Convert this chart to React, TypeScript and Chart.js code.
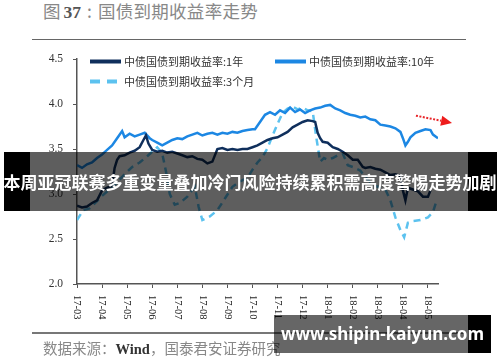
import React, { useEffect, useRef } from "react";
import { Chart, registerables } from "chart.js";

Chart.register(...registerables);

// ---------- data ----------
const monthLabels = [
  "17-03", "17-04", "17-05", "17-06", "17-07", "17-08", "17-09", "17-10",
  "17-11", "17-12", "18-01", "18-02", "18-03", "18-04", "18-05",
];

const seriesNames = [
  "中债国债到期收益率:1年",
  "中债国债到期收益率:10年",
  "中债国债到期收益率:3个月",
];

// time in months since 2017-03
const oneYearT = [
  0, 0.2, 0.4, 0.6, 0.8, 1.0, 1.2, 1.4, 1.5, 1.6, 1.7, 1.9, 2.1, 2.3, 2.5,
  2.65, 2.75, 2.85, 3.0, 3.2, 3.4, 3.6, 3.8, 4.0, 4.2, 4.4, 4.6, 4.8, 5.0, 5.2,
  5.4, 5.6, 5.8, 6.0, 6.2, 6.4, 6.6, 6.8, 7.0, 7.2, 7.4, 7.6, 7.8, 8.0, 8.2,
  8.4, 8.6, 8.8, 9.0, 9.2, 9.4, 9.5, 9.6, 9.7, 9.8, 10.0, 10.2, 10.4, 10.6, 10.8,
  11.0, 11.2, 11.4, 11.5, 11.7, 11.9, 12.1, 12.3, 12.5, 12.7, 12.9, 13.0, 13.1, 13.2, 13.4,
  13.6, 13.8, 14.0, 14.1,
];
const oneYear = [
  2.87, 2.85, 2.86, 2.90, 2.93, 3.04, 3.07, 3.09, 3.29, 3.38, 3.42, 3.43, 3.46, 3.48, 3.52,
  3.60, 3.65, 3.56, 3.49, 3.47, 3.48, 3.46, 3.47, 3.45, 3.43, 3.41, 3.42, 3.39, 3.38, 3.34,
  3.36, 3.50, 3.51, 3.49, 3.50, 3.49, 3.50, 3.50, 3.52, 3.54, 3.57, 3.60, 3.62, 3.63, 3.66,
  3.69, 3.74, 3.77, 3.80, 3.82, 3.81, 3.80, 3.68, 3.62, 3.58, 3.57, 3.52, 3.50, 3.47, 3.43,
  3.38, 3.38, 3.30, 3.29, 3.30, 3.28, 3.27, 3.24, 3.21, 3.22, 3.20, 3.04, 2.93, 3.07, 3.05,
  3.03, 2.97, 2.97, 3.04,
];

const tenYearT = [
  0, 0.2, 0.4, 0.6, 0.8, 1.0, 1.2, 1.4, 1.6, 1.8, 1.9, 2.1, 2.3, 2.5, 2.7,
  2.9, 3.0, 3.2, 3.4, 3.6, 3.8, 4.0, 4.2, 4.4, 4.6, 4.8, 5.0, 5.2, 5.4, 5.6,
  5.8, 6.0, 6.2, 6.4, 6.6, 6.8, 7.0, 7.1, 7.3, 7.5, 7.7, 7.9, 8.1, 8.3, 8.5,
  8.7, 8.9, 9.1, 9.3, 9.5, 9.7, 9.9, 10.1, 10.3, 10.5, 10.7, 10.9, 11.1, 11.3, 11.5,
  11.7, 11.9, 12.1, 12.3, 12.5, 12.7, 12.9, 13.0, 13.1, 13.2, 13.3, 13.5, 13.7, 13.9, 14.1,
  14.2, 14.4,
];
const tenYear = [
  3.32, 3.29, 3.33, 3.35, 3.40, 3.44, 3.49, 3.54, 3.62, 3.70, 3.63, 3.67, 3.64, 3.66, 3.68,
  3.62, 3.60, 3.57, 3.54, 3.57, 3.60, 3.62, 3.61, 3.64, 3.66, 3.68, 3.65, 3.67, 3.68, 3.66,
  3.68, 3.67, 3.69, 3.68, 3.70, 3.71, 3.72, 3.72, 3.80, 3.88, 3.91, 3.88, 3.93, 3.90, 3.96,
  3.91, 3.94, 3.90, 3.93, 3.95, 3.96, 3.98, 3.99, 3.95, 3.93, 3.90, 3.88, 3.87, 3.85, 3.86,
  3.83, 3.82, 3.77, 3.76, 3.75, 3.73, 3.69, 3.62, 3.54, 3.58, 3.63, 3.68, 3.70, 3.72, 3.71,
  3.66, 3.62,
];

const threeMonthT = [
  0, 0.25, 0.5, 0.8, 1.0, 1.3, 1.6, 1.9, 2.2, 2.5, 2.8, 3.0, 3.2, 3.4, 3.55,
  3.7, 3.9, 4.1, 4.4, 4.7, 4.85, 5.0, 5.3, 5.6, 5.9, 6.2, 6.5, 6.8, 7.0, 7.2,
  7.4, 7.6, 7.8, 8.0, 8.2, 8.4, 8.6, 8.8, 9.0, 9.2, 9.4, 9.55, 9.7, 9.85, 10.0,
  10.2, 10.4, 10.6, 10.8, 11.0, 11.3, 11.5, 11.8, 12.1, 12.3, 12.5, 12.7, 12.9, 13.05, 13.2,
  13.4, 13.7, 14.0, 14.2, 14.35,
];
const threeMonth = [
  2.71, 2.82, 2.84, 2.92, 2.98, 3.05, 3.13, 3.22, 3.30, 3.35, 3.42, 3.47, 3.52, 3.45, 3.25,
  3.00, 2.88, 2.90, 2.97, 3.08, 2.86, 2.71, 2.75, 2.82, 2.95, 3.08, 3.14, 3.18, 3.27, 3.35,
  3.41, 3.51, 3.65, 3.78, 3.90, 3.95, 3.97, 3.94, 3.96, 3.93, 3.92, 3.62, 3.36, 3.40, 3.38,
  3.40, 3.43, 3.45, 3.32, 3.30, 3.26, 3.19, 3.10, 3.07, 3.05, 2.93, 2.74, 2.60, 2.52, 2.68,
  2.70, 2.71, 2.74, 2.80, 2.93,
];

// trend arrow (month, yield): start, tip
const arrowStart = [13.52, 3.87];
const arrowTip = [14.96, 3.79];

const yMin = 2.0;
const yMax = 4.5;
const yStep = 0.5;
const xMax = 14.4;

// ---------- styles ----------
const C1 = "#0f2f5c";
const C10 = "#1c87e3";
const C3 = "#5cc2ef";
const SERIF = '"Liberation Serif", "DejaVu Serif", serif';
const CJK = '"Noto Sans CJK SC", sans-serif';

const toPts = (t: number[], v: number[]) => t.map((x, i) => ({ x, y: v[i] }));

const xLabelPlugin = {
  id: "xLabels",
  afterDraw(chart: any) {
    const { ctx } = chart;
    const x = chart.scales.x;
    ctx.save();
    ctx.font = `10.5px ${SERIF}`;
    ctx.fillStyle = "#222";
    ctx.textAlign = "left";
    ctx.textBaseline = "middle";
    monthLabels.forEach((lab, i) => {
      const px = x.getPixelForValue(i);
      ctx.save();
      ctx.translate(px, x.top + 11);
      ctx.rotate(Math.PI / 2);
      ctx.fillText(lab, 0, 0);
      ctx.restore();
    });
    ctx.restore();
  },
};

const legendPlugin = {
  id: "customLegend",
  afterDraw(chart: any) {
    const { ctx, chartArea } = chart;
    const L = chartArea.left;
    const T = chartArea.top;
    ctx.save();
    ctx.font = `11px ${CJK}`;
    ctx.fillStyle = "#333";
    ctx.textBaseline = "middle";
    const items = [
      { x: L + 13, y: T + 2.5, color: C1, dash: [] as number[], label: seriesNames[0] },
      { x: L + 198, y: T + 2.5, color: C10, dash: [] as number[], label: seriesNames[1] },
      { x: L + 13, y: T + 22.5, color: C3, dash: [10, 7], label: seriesNames[2] },
    ];
    items.forEach((it) => {
      ctx.beginPath();
      ctx.strokeStyle = it.color;
      ctx.lineWidth = 4;
      ctx.setLineDash(it.dash);
      ctx.moveTo(it.x, it.y);
      ctx.lineTo(it.x + 31, it.y);
      ctx.stroke();
      ctx.setLineDash([]);
      ctx.fillText(it.label, it.x + 34, it.y + 0.5);
    });
    ctx.restore();
  },
};

const arrowPlugin = {
  id: "trendArrow",
  afterDraw(chart: any) {
    const { ctx } = chart;
    const sx = chart.scales.x;
    const sy = chart.scales.y;
    const x0 = sx.getPixelForValue(arrowStart[0]);
    const y0 = sy.getPixelForValue(arrowStart[1]);
    const x1 = sx.getPixelForValue(arrowTip[0]);
    const y1 = sy.getPixelForValue(arrowTip[1]);
    const ang = Math.atan2(y1 - y0, x1 - x0);
    const headLen = 11;
    const bx = x1 - headLen * Math.cos(ang);
    const by = y1 - headLen * Math.sin(ang);
    ctx.save();
    ctx.strokeStyle = "#e8262a";
    ctx.fillStyle = "#ee1c1c";
    ctx.lineWidth = 2;
    ctx.setLineDash([2, 1.5]);
    ctx.beginPath();
    ctx.moveTo(x0, y0);
    ctx.lineTo(bx, by);
    ctx.stroke();
    ctx.setLineDash([]);
    const hw = 5;
    ctx.beginPath();
    ctx.moveTo(x1, y1);
    ctx.lineTo(bx + hw * Math.sin(ang), by - hw * Math.cos(ang));
    ctx.lineTo(bx - hw * Math.sin(ang), by + hw * Math.cos(ang));
    ctx.closePath();
    ctx.fill();
    ctx.restore();
  },
};

function YieldChart() {
  const ref = useRef<HTMLCanvasElement | null>(null);
  useEffect(() => {
    if (!ref.current) return;
    const chart = new Chart(ref.current, {
      type: "line",
      data: {
        datasets: [
          {
            label: seriesNames[0],
            data: toPts(oneYearT, oneYear),
            borderColor: C1,
            borderWidth: 2.5,
            pointRadius: 0,
            tension: 0,
            order: 0,
          },
          {
            label: seriesNames[1],
            data: toPts(tenYearT, tenYear),
            borderColor: C10,
            borderWidth: 2.5,
            pointRadius: 0,
            tension: 0,
            order: 1,
          },
          {
            label: seriesNames[2],
            data: toPts(threeMonthT, threeMonth),
            borderColor: C3,
            borderWidth: 2.5,
            borderDash: [7, 5],
            pointRadius: 0,
            tension: 0,
            order: 2,
          },
        ],
      },
      options: {
        animation: false,
        responsive: false,
        devicePixelRatio: 1,
        layout: { padding: { left: 47, top: 59, right: 62, bottom: 78 } },
        plugins: {
          legend: { display: false },
          tooltip: { enabled: false },
          title: { display: false },
        },
        scales: {
          x: {
            type: "linear",
            min: 0,
            max: xMax,
            afterBuildTicks: (s: any) => {
              s.ticks = monthLabels.map((_, i) => ({ value: i }));
            },
            afterFit: (s: any) => {
              s.height = 0;
            },
            ticks: { display: false },
            grid: {
              drawOnChartArea: false,
              drawTicks: true,
              tickLength: 4,
              color: "#555",
              lineWidth: 1,
            },
            border: { display: true, color: "#555", width: 1.5 },
          },
          y: {
            min: yMin,
            max: yMax,
            afterFit: (s: any) => {
              s.width = 30;
            },
            ticks: {
              stepSize: yStep,
              padding: 10,
              color: "#333",
              font: { family: SERIF, size: 11.5 },
              callback: (v: any) => Number(v).toFixed(1),
            },
            grid: {
              drawOnChartArea: false,
              drawTicks: true,
              tickLength: 4,
              color: "#555",
            },
            border: { display: true, color: "#555", width: 1.5 },
          },
        },
      },
      plugins: [xLabelPlugin, legendPlugin, arrowPlugin],
    });
    return () => chart.destroy();
  }, []);
  return (
    <canvas
      ref={ref}
      width={500}
      height={362}
      style={{ position: "absolute", left: 0, top: 0, width: 500, height: 362 }}
    />
  );
}

export default function App() {
  return (
    <div
      style={{
        position: "absolute",
        left: 0,
        top: 0,
        width: 500,
        height: 362,
        background: "#fff",
        overflow: "hidden",
        fontFamily: CJK,
      }}
    >
      <div
        style={{
          position: "absolute",
          left: 43,
          top: 1,
          fontSize: 17.5,
          lineHeight: "20px",
          color: "#888",
          whiteSpace: "nowrap",
        }}
      >
        <span>图</span>
        <span style={{ fontFamily: SERIF, fontWeight: "bold", color: "#555", marginLeft: 3 }}>37</span>
        <span style={{ marginLeft: 6 }}>:</span>
        <span style={{ marginLeft: 6, letterSpacing: 0.3 }}>国债到期收益率走势</span>
      </div>
      <div style={{ position: "absolute", left: 32, top: 38.5, width: 434, height: 1.5, background: "#666" }} />
      <YieldChart />
      <div style={{ position: "absolute", left: 32, top: 332, width: 434, height: 1.5, background: "#777" }} />
      <div
        style={{
          position: "absolute",
          left: 43,
          top: 339,
          fontSize: 14.5,
          lineHeight: "18px",
          color: "#888",
          whiteSpace: "nowrap",
        }}
      >
        数据来源：<span style={{ fontFamily: SERIF, fontWeight: "bold", color: "#333" }}>Wind</span>，国泰君安证券研究
      </div>

      {/* overlay banner */}
      <div style={{ position: "absolute", left: 4, top: 152, width: 26, height: 59, background: "#000" }} />
      <div style={{ position: "absolute", left: 30, top: 152, width: 438, height: 59, background: "rgba(0,0,0,0.63)" }} />
      <div style={{ position: "absolute", left: 468, top: 152, width: 29, height: 59, background: "#000" }} />
      <div
        style={{
          position: "absolute",
          left: 0,
          top: 152,
          width: 500,
          height: 59,
          lineHeight: "59px",
          textAlign: "center",
          color: "#fff",
          fontWeight: "bold",
          fontSize: 17,
          whiteSpace: "nowrap",
          fontFamily: CJK,
        }}
      >
        本周亚冠联赛多重变量叠加冷门风险持续累积需高度警惕走势加剧
      </div>

      {/* watermark */}
      <div style={{ position: "absolute", left: 274, top: 315, width: 194, height: 38, background: "rgba(0,0,0,0.6)" }} />
      <div style={{ position: "absolute", left: 468, top: 315, width: 23, height: 38, background: "#000" }} />
      <div
        style={{
          position: "absolute",
          left: 274,
          top: 315,
          width: 217,
          height: 38,
          lineHeight: "38px",
          textAlign: "center",
          color: "#fff",
          fontWeight: "bold",
          fontSize: 17,
          whiteSpace: "nowrap",
          fontFamily: '"Noto Sans", "Open Sans", sans-serif',
        }}
      >
        www.shipin-kaiyun.com
      </div>
    </div>
  );
}
